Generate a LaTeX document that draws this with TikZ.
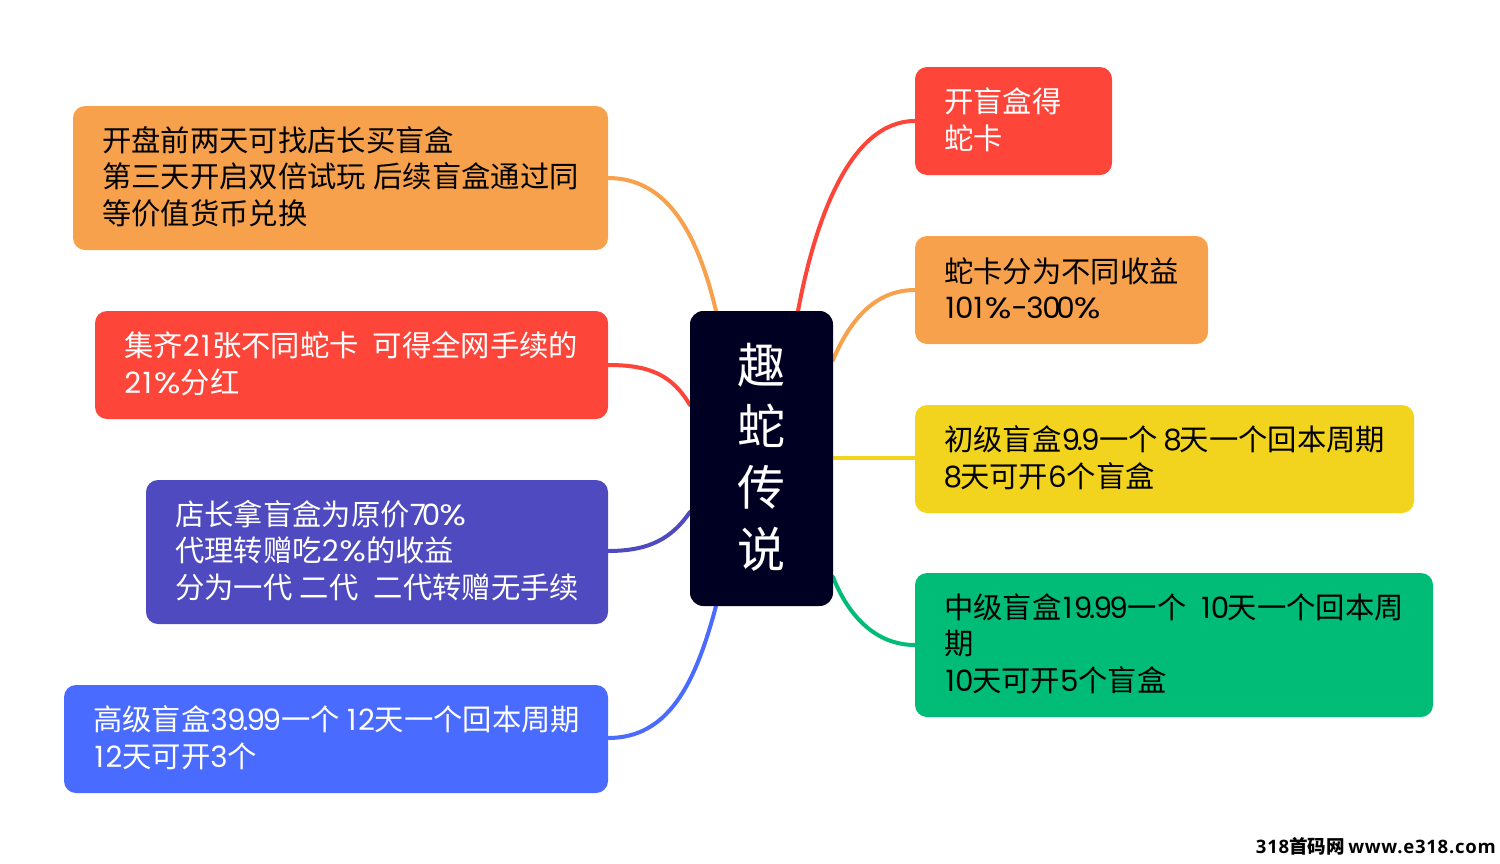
\documentclass[tikz,border=0pt]{standalone}
\usepackage{fontspec}
\setmainfont[LetterSpace=-2.5]{Poppins}
\newfontfamily\cjk{Noto Sans CJK SC}
\newfontfamily\wm[LetterSpace=4]{Open Sans}
\usetikzlibrary{calc}
\definecolor{cOrange}{HTML}{F7A14C}
\definecolor{cRed}{HTML}{FD453A}
\definecolor{cPurple}{HTML}{4F4ABF}
\definecolor{cBlue}{HTML}{4A6BFF}
\definecolor{cYellow}{HTML}{F2D41E}
\definecolor{cGreen}{HTML}{00BC77}
\definecolor{cNavy}{HTML}{000022}
\newcommand{\C}[1]{{\cjk #1}}
\newcommand{\one}{\kern1.1pt 1\kern1.1pt}
\newcommand{\zero}{\kern-1.1pt 0\kern-1.1pt}
\newcommand{\eight}{\kern-1.5pt 8\kern-1.5pt}
\newcommand{\dt}{\kern-2.5pt.\kern-1.3pt}
\newcommand{\pct}{\kern.4pt\scalebox{1.2}[1]{\%}}
\tikzset{
 px/.style={x=0.75pt,y=-0.75pt},
 topic/.style={inner sep=0pt,font=\fontsize{22pt}{27.4pt}\selectfont,align=left},
 link/.style={line width=3pt,line cap=round},
}
\newcommand{\topicbox}[8]{% name, x0,y0,x1,y1, fill, text colour, text
 \fill[#6,rounded corners=9pt] (#2,#3) rectangle (#4,#5);
 \node[topic,anchor=west,text=#7] (#1) at (#2+29,{(#3+#5)/2-1.5}) {#8};
}
\begin{document}
\begin{tikzpicture}[px]
\useasboundingbox (0,0) rectangle (1500,864);
\fill[white] (0,0) rectangle (1500,864);
% links
\draw[link,cOrange] (716,311) .. controls (698,235) and (668,178) .. (608,178);
\draw[link,cRed] (690,405) .. controls (672,375) and (650,365) .. (608,365);
\draw[link,cPurple] (690,512) .. controls (672,538) and (650,551) .. (608,551);
\draw[link,cBlue] (716,606) .. controls (695,685) and (668,738) .. (608,738);
\draw[link,cRed] (798,311) .. controls (815,220) and (850,121) .. (915,121);
\draw[link,cOrange] (833,360) .. controls (850,320) and (875,290) .. (915,290);
\draw[link,cYellow] (833,458) -- (915,458);
\draw[link,cGreen] (833,577) .. controls (848,615) and (875,645) .. (915,645);
% centre
\fill[cNavy,rounded corners=10pt] (690,311) rectangle (833,606);
\node[text=white,font=\cjk\fontsize{36pt}{46pt}\selectfont,align=center,inner sep=0pt] (root) at (761.5,457) {趣\\蛇\\传\\说};
% left
\topicbox{a}{73}{106}{608}{250}{cOrange}{black}{\C{开盘前两天可找店长买盲盒}\\\C{第三天开启双倍试玩} \C{后续盲盒通过同}\\\C{等价值货币兑换}}
\topicbox{b}{95}{311}{608}{419}{cRed}{white}{\C{集齐}2\one\C{张不同蛇卡}\ \ \C{可得全网手续的}\\2\one\pct\C{分红}}
\topicbox{c}{146}{480}{608}{624}{cPurple}{white}{\C{店长拿盲盒为原价}7\kern-2pt\zero\pct\\\C{代理转赠吃}2\pct\C{的收益}\\\C{分为一代} \C{二代}\ \ \kern1pt\C{二代转赠无手续}}
\topicbox{d}{64}{685}{608}{793}{cBlue}{white}{\C{高级盲盒}39\dt 9\kern-2pt 9\C{一个} \kern-.8pt\one 2\C{天一个回本周期}\\\one 2\C{天可开}3\C{个}}
% right
\topicbox{e}{915}{67}{1112}{175}{cRed}{white}{\C{开盲盒得}\\\C{蛇卡}}
\topicbox{f}{915}{236}{1208}{344}{cOrange}{black}{\C{蛇卡分为不同收益}\\\one\zero\one\pct-\kern-1pt 3\zero\kern-1pt\zero\pct}
\topicbox{g}{915}{405}{1414}{513}{cYellow}{black}{\C{初级盲盒}9\dt 9\C{一个} \eight\C{天一个回本周期}\\\kern1pt\eight\C{天可开}6\C{个盲盒}}
\topicbox{h}{915}{573}{1433}{717}{cGreen}{black}{\C{中级盲盒}\one 9\dt 9\kern-2pt 9\C{一个}\ \ \kern-.5pt\one\zero\C{天一个回本周}\\\C{期}\\\one\zero\C{天可开}5\C{个盲盒}}
\node[anchor=east,inner sep=0pt,text=black,font=\bfseries\fontsize{13.9pt}{16pt}\selectfont] (wmk) at (1496,846) {{\wm 318}{\cjk 首码网} {\wm www.e318.com}};
\end{tikzpicture}
\end{document}
